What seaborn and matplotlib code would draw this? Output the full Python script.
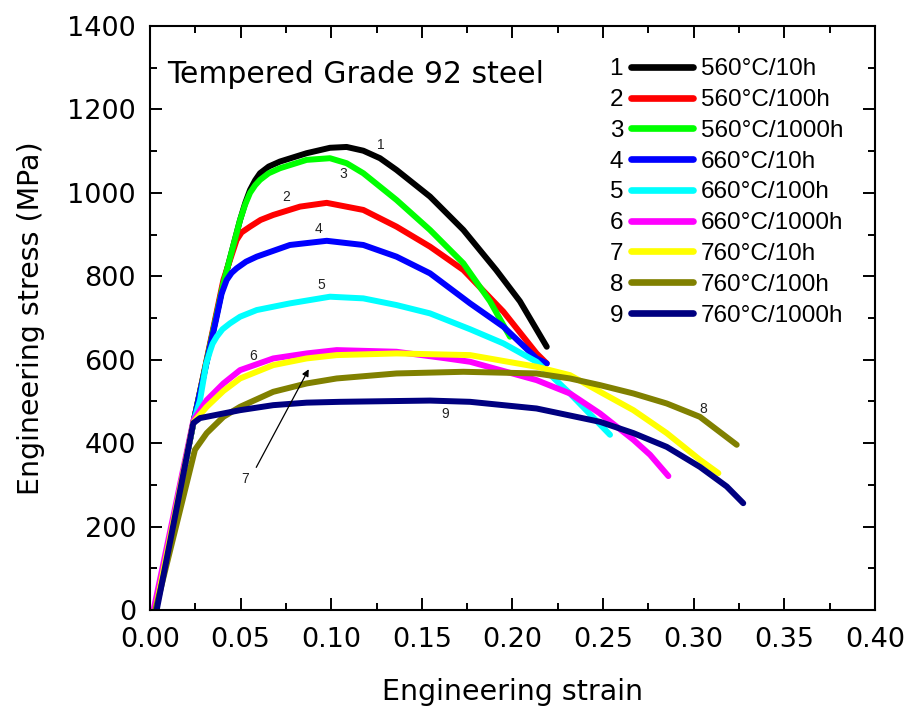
import numpy as np
import pandas as pd
import matplotlib
matplotlib.use("Agg")
import matplotlib.pyplot as plt
import seaborn as sns
from matplotlib.lines import Line2D
from matplotlib.text import Text
from matplotlib.legend_handler import HandlerBase
from matplotlib.ticker import MultipleLocator, FormatStrFormatter

# conditions and colours (Origin default palette)
conditions = ["560°C/10h", "560°C/100h", "560°C/1000h",
              "660°C/10h", "660°C/100h", "660°C/1000h",
              "760°C/10h", "760°C/100h", "760°C/1000h"]
colors = ["#000000", "#FF0000", "#00FF00", "#0000FF", "#00FFFF",
          "#FF00FF", "#FFFF00", "#808000", "#000080"]

strain_1 = [0.003, 0.024, 0.0405, 0.0497, 0.0525, 0.0552, 0.058, 0.0607, 0.0655, 0.0717, 0.0864,
            0.0993, 0.1085, 0.1177, 0.1269, 0.136, 0.1545, 0.1729, 0.191, 0.2041, 0.2189]
stress_1 = [0, 450, 783, 935, 975, 1007, 1030, 1047, 1063, 1075, 1095,
            1108, 1110, 1101, 1083, 1055, 991, 911, 815, 740, 631]

strain_2 = [0.003, 0.024, 0.0405, 0.0478, 0.0505, 0.0552, 0.061, 0.068, 0.0828, 0.0975, 0.1177,
            0.136, 0.1545, 0.1729, 0.195, 0.2133, 0.2189]
stress_2 = [0, 450, 791, 887, 905, 919, 935, 947, 967, 976, 959,
            919, 871, 815, 715, 615, 591]

strain_3 = [0.003, 0.024, 0.0405, 0.0497, 0.0525, 0.0552, 0.058, 0.0607, 0.0655, 0.0717, 0.0864,
            0.0993, 0.1085, 0.1177, 0.136, 0.1545, 0.1729, 0.1876, 0.1986]
stress_3 = [0, 450, 783, 935, 972, 1000, 1018, 1031, 1047, 1059, 1079,
            1083, 1071, 1047, 983, 911, 831, 740, 655]

strain_4 = [0.003, 0.024, 0.0368, 0.0395, 0.0423, 0.045, 0.0478, 0.0530, 0.0589, 0.0772, 0.0975,
            0.1177, 0.136, 0.1545, 0.1766, 0.195, 0.2133, 0.2189]
stress_4 = [0, 450, 703, 758, 791, 808, 819, 835, 847, 875, 885,
            875, 847, 807, 735, 679, 603, 591]

strain_5 = [0.003, 0.024, 0.0276, 0.031, 0.0331, 0.0345, 0.0368, 0.040, 0.0441, 0.0497, 0.0589,
            0.0772, 0.0993, 0.1177, 0.136, 0.1545, 0.1766, 0.195, 0.2133, 0.2317, 0.2538]
stress_5 = [0, 450, 503, 590, 620, 638, 655, 673, 687, 703, 719,
            735, 751, 747, 731, 711, 673, 639, 595, 519, 420]

strain_6 = [0.002, 0.024, 0.0313, 0.0405, 0.0497, 0.068, 0.0864, 0.103, 0.136, 0.1637,
            0.1766, 0.2133, 0.2317, 0.2483, 0.2667, 0.2759, 0.286]
stress_6 = [0, 455, 503, 543, 575, 603, 615, 623, 619, 603,
            595, 551, 519, 471, 408, 372, 321]

strain_7 = [0.003, 0.024, 0.0313, 0.0405, 0.0497, 0.068, 0.0864, 0.103, 0.136, 0.1766, 0.2133,
            0.2317, 0.2483, 0.2667, 0.2851, 0.3034, 0.3136]
stress_7 = [0, 450, 487, 525, 555, 587, 603, 611, 615, 611, 583,
            563, 523, 479, 424, 360, 328]

strain_8 = [0.003, 0.0248, 0.0313, 0.0405, 0.0497, 0.068, 0.0864, 0.103, 0.136, 0.1729,
            0.2133, 0.2317, 0.2483, 0.2667, 0.2851, 0.3034, 0.3237]
stress_8 = [0, 384, 424, 463, 487, 523, 543, 555, 567, 571,
            567, 555, 539, 519, 495, 463, 396]

strain_9 = [0.0037, 0.0239, 0.0276, 0.0497, 0.068, 0.0864, 0.1048, 0.1545, 0.1766, 0.2133,
            0.2483, 0.2667, 0.2851, 0.3034, 0.3182, 0.3273]
stress_9 = [0, 448, 460, 479, 491, 497, 499, 502, 499, 483,
            451, 424, 391, 343, 296, 256]

strains = [strain_1, strain_2, strain_3, strain_4, strain_5, strain_6, strain_7, strain_8, strain_9]
stresses = [stress_1, stress_2, stress_3, stress_4, stress_5, stress_6, stress_7, stress_8, stress_9]

# curve number labels (x, y)
label_x = [0.1274, 0.0750, 0.1065, 0.0932, 0.0943, 0.0568, 0.0524, 0.3051, 0.1628]
label_y = [1115, 990, 1045, 913, 779, 609, 314, 482, 470]

rows = []
for i, (sx, sy) in enumerate(zip(strains, stresses)):
    for k, (a, b) in enumerate(zip(sx, sy)):
        rows.append({"curve": conditions[i], "order": k, "strain": a, "stress": b})
df = pd.DataFrame(rows)

sns.set_style("ticks")
plt.rcParams["font.family"] = ["DejaVu Sans"]
plt.rcParams["text.color"] = "black"
plt.rcParams["axes.labelcolor"] = "black"
plt.rcParams["xtick.color"] = "black"
plt.rcParams["ytick.color"] = "black"

fig = plt.figure(figsize=(9.09, 7.12), dpi=100)
ax = fig.add_axes([0.165, 0.1433, 0.7976, 0.8202])

sns.lineplot(data=df, x="strain", y="stress", hue="curve", hue_order=conditions,
             palette=colors, sort=False, estimator=None, lw=4.3, legend=False,
             ax=ax, solid_capstyle="round")

ax.set_xlim(0, 0.40)
ax.set_ylim(0, 1400)
ax.xaxis.set_major_locator(MultipleLocator(0.05))
ax.xaxis.set_minor_locator(MultipleLocator(0.025))
ax.xaxis.set_major_formatter(FormatStrFormatter("%.2f"))
ax.yaxis.set_major_locator(MultipleLocator(200))
ax.yaxis.set_minor_locator(MultipleLocator(100))

for s in ax.spines.values():
    s.set_visible(True)
    s.set_linewidth(1.5)
    s.set_color("black")
ax.tick_params(which="both", direction="in", top=True, right=True, width=1.4,
               color="black", labelcolor="black")
ax.tick_params(which="major", length=8.6, labelsize=19.5)
ax.tick_params(which="minor", length=4.8)
ax.tick_params(axis="x", which="major", pad=12.5)
ax.tick_params(axis="y", which="major", pad=10)

ax.set_xlabel("Engineering strain", fontsize=20.5, labelpad=18, color="black")
ax.set_ylabel("Engineering stress (MPa)", fontsize=20.5, labelpad=16, color="black")

ax.text(0.0094, 1264, "Tempered Grade 92 steel", fontsize=21.5, ha="left", va="baseline",
        color="black")

for i in range(9):
    ax.text(label_x[i], label_y[i], str(i + 1), fontsize=10, color="#222222",
            ha="center", va="center", family="Liberation Sans")

ax.annotate("", xy=(0.0883, 583), xytext=(0.0579, 336),
            arrowprops=dict(arrowstyle="-|>", color="black", lw=0.9, mutation_scale=10))


class NumberedHandler(HandlerBase):
    def __init__(self, num):
        super().__init__()
        self.num = num

    def create_artists(self, legend, orig_handle, xdescent, ydescent, width, height, fontsize, trans):
        x0 = -xdescent
        y_mid = (height - ydescent) / 2.0
        t = Text(x0 + 9.4, -ydescent, self.num, fontsize=fontsize, ha="right",
                 va="baseline", color="black", transform=trans, family="Liberation Sans")
        ln = Line2D([x0 + 14.8, x0 + width - 2.6], [y_mid, y_mid], color=orig_handle.get_color(),
                    lw=4.8, solid_capstyle="round", transform=trans)
        return [ln, t]


handles = [Line2D([], [], color=c) for c in colors]
hmap = {h: NumberedHandler(str(i + 1)) for i, h in enumerate(handles)}
leg = ax.legend(handles, conditions, handler_map=hmap, loc="upper left",
                bbox_to_anchor=(0.6345, 0.9445), frameon=False,
                prop={"family": "Liberation Sans", "size": 17.5},
                borderpad=0, borderaxespad=0, handlelength=3.58, handletextpad=0.16,
                labelspacing=0.36)
for t in leg.get_texts():
    t.set_color("black")

fig.savefig("out.png", dpi=100)
